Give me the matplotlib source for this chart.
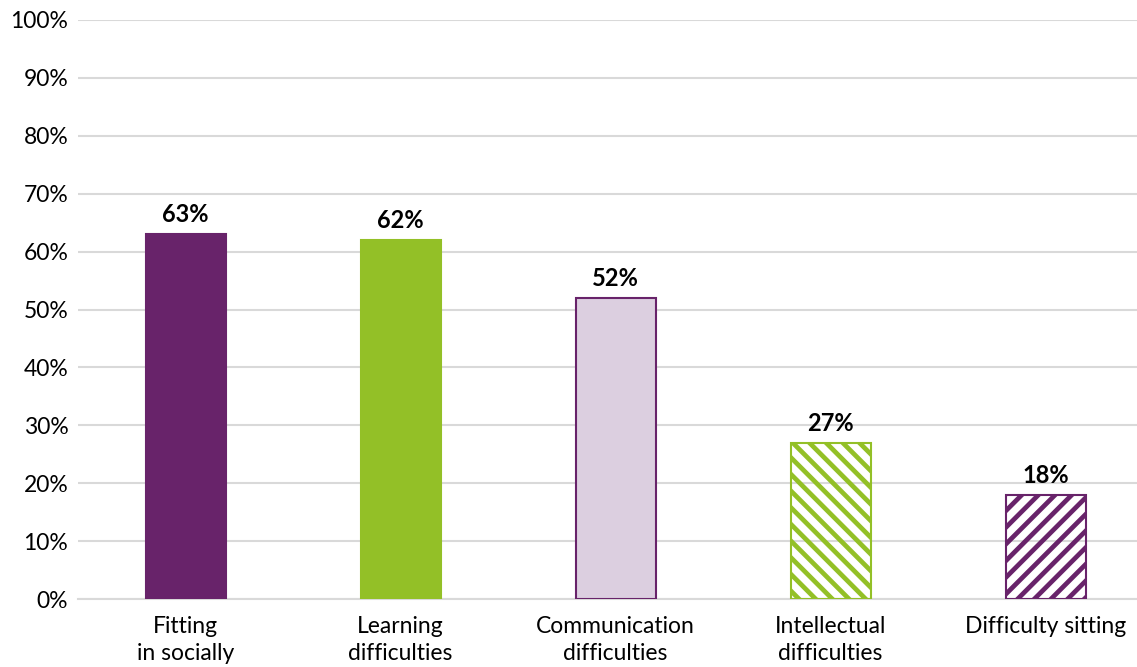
import matplotlib
matplotlib.use("Agg")
import matplotlib.pyplot as plt
import numpy as np

categories = ["Fitting\nin socially", "Learning\ndifficulties", "Communication\ndifficulties",
              "Intellectual\ndifficulties", "Difficulty sitting"]
values = [63, 62, 52, 27, 18]
yticks = [0, 10, 20, 30, 40, 50, 60, 70, 80, 90, 100]

PURPLE = "#68236a"
GREEN = "#93c027"
LILAC = "#dccfe0"

plt.rcParams['font.family'] = ['Lato', 'DejaVu Sans']
plt.rcParams['hatch.linewidth'] = 3.4

fig = plt.figure(figsize=(11.37, 6.67), dpi=100)
ax = fig.add_axes([78/1137, 68/667, 1075/1137, 579/667])

x = np.arange(len(categories))
styles = [
    dict(facecolor=PURPLE, edgecolor=PURPLE, hatch=None),
    dict(facecolor=GREEN, edgecolor=GREEN, hatch=None),
    dict(facecolor=LILAC, edgecolor=PURPLE, hatch=None),
    dict(facecolor='none', edgecolor=GREEN, hatch='\\\\'),
    dict(facecolor='none', edgecolor=PURPLE, hatch='//'),
]
for xi, v, st in zip(x, values, styles):
    ax.bar(xi, v, width=80/215, facecolor=st['facecolor'], edgecolor=st['edgecolor'],
           hatch=st['hatch'], linewidth=1.5, zorder=3)
    ax.text(xi, v + 1.4, f"{v}%", ha='center', va='bottom', fontsize=17,
            fontweight='bold', color='black', zorder=4)

ax.set_xlim(-0.5, len(categories) - 0.5)
ax.set_ylim(0, 100)
ax.set_yticks(yticks)
ax.set_yticklabels([f"{t}%" for t in yticks], fontsize=16.5)
ax.set_xticks(x)
ax.set_xticklabels(categories, fontsize=16.5, linespacing=1.35)
ax.tick_params(axis='both', length=0, colors='black')
ax.tick_params(axis='x', pad=12)
ax.tick_params(axis='y', pad=7)
ax.grid(axis='y', color='#d9d9d9', linewidth=1.5, zorder=0)
ax.set_axisbelow(True)
for s in ['top', 'right', 'left']:
    ax.spines[s].set_visible(False)
ax.spines['bottom'].set_color('#d9d9d9')
ax.spines['bottom'].set_linewidth(1.5)

fig.savefig("out.png", dpi=100)
